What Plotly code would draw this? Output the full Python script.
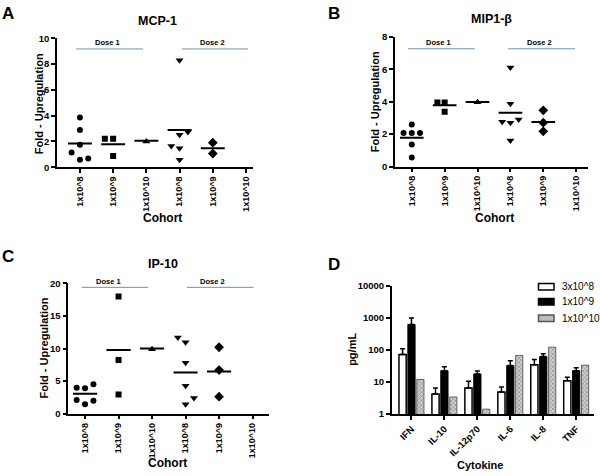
import plotly.graph_objects as go

# ---------------- data ----------------
cohorts = ["1x10^8", "1x10^9", "1x10^10", "1x10^8", "1x10^9", "1x10^10"]

# Panel A: MCP-1 (fold upregulation per cohort)
mcp1_vals = [[3.86, 2.88, 1.74, 1.14, 0.58, 0.68],
             [2.2, 2.2, 0.86],
             [2.0],
             [8.3, 2.52, 1.64, 1.46, 2.73, 0.58],
             [1.9, 1.06],
             []]
mcp1_jit = [[0, 0, 0, -0.25, 0, 0.25],
            [-0.25, 0, 0],
            [0],
            [0, 0, -0.25, 0, 0.25, 0],
            [0, 0],
            []]
mcp1_mean = [1.84, 1.77, 2.05, 2.88, 1.46, None]

# Panel B: MIP1-beta
mip_vals = [[2.07, 2.59, 2.07, 2.07, 1.36, 0.56],
            [3.96, 3.96, 3.38],
            [3.97],
            [6.11, 3.88, 2.77, 2.71, 2.9, 1.61],
            [3.47, 2.71, 2.17],
            []]
mip_jit = [[-0.25, 0, 0, 0.25, 0, 0],
           [-0.22, 0, 0],
           [0],
           [0, 0, -0.25, 0, 0.25, 0],
           [0, 0, 0],
           []]
mip_mean = [1.77, 3.78, 3.99, 3.32, 2.75, None]

# Panel C: IP-10
ip_vals = [[3.99, 3.9, 4.5, 2.1, 2.0, 1.44],
           [18.0, 8.25, 2.95],
           [9.9],
           [11.7, 10.95, 7.8, 4.3, 2.4, 1.44],
           [10.2, 6.69, 2.6],
           []]
ip_jit = [[-0.25, 0, 0.25, -0.25, 0.25, 0],
          [0, 0, 0],
          [0],
          [-0.23, 0, 0, 0, 0.25, 0],
          [0, 0, 0],
          []]
ip_mean = [3.04, 9.79, 9.99, 6.34, 6.49, None]

# Panel D: cytokines (pg/mL)
cytokines = ["IFN", "IL-10", "IL-12p70", "IL-6", "IL-8", "TNF"]
d_3e8 = [73, 4.2, 6.5, 4.9, 34.6, 11]
d_3e8_err = [36, 2.3, 4.0, 2.1, 16.4, 3.0]
d_1e9 = [630, 22.7, 17.9, 33, 63, 22.7]
d_1e9_err = [370, 7.3, 4.1, 13, 13, 5.3]
d_1e10 = [12, 3.4, 1.42, 68, 123, 33.7]
legend_names = ["3x10^8", "1x10^9", "1x10^10"]

symbols = ["circle", "square", "triangle-up", "triangle-down", "diamond", "circle"]
sizes = [6, 6, 7, 7, 7.5, 6]

W, H = 600, 476
FONT = "Liberation Sans, Arial, sans-serif"
DOSE_BLUE = "#7390b8"
GREY_FILL = "#bdbdbd"


def px(x):
    return x / W


def py(y):
    return 1 - y / H


fig = go.Figure()

panels = [
    dict(vals=mcp1_vals, jit=mcp1_jit, mean=mcp1_mean, xa="x", ya="y",
         xd=(57, 253), yd=(165, 33), xr=[-0.69, 5.21], yr=[0, 10],
         yt=[0, 2, 4, 6, 8, 10], dose_y=9.17, d1=(-0.12, 1.9), d2=(3.07, 5.06),
         t1=0.84, t2=3.98),
    dict(vals=mip_vals, jit=mip_jit, mean=mip_mean, xa="x2", ya="y2",
         xd=(395, 588), yd=(164.3, 31.7), xr=[-0.51, 5.36], yr=[0, 8],
         yt=[0, 2, 4, 6, 8], dose_y=7.27, d1=(-0.11, 1.92), d2=(2.93, 4.97),
         t1=0.8, t2=3.87),
    dict(vals=ip_vals, jit=ip_jit, mean=ip_mean, xa="x3", ya="y3",
         xd=(68.3, 269), yd=(417.3, 284), xr=[-0.5, 5.49], yr=[0, 20],
         yt=[0, 5, 10, 15, 20], dose_y=19.4, d1=(-0.1, 1.89), d2=(3.04, 5.03),
         t1=0.7, t2=3.81),
]

layout_axes = {}
shapes = []
annotations = []

axis_common = dict(showline=True, linecolor="black", linewidth=1.5, ticks="outside",
                   ticklen=4, tickwidth=1.5, tickcolor="black", showgrid=False,
                   zeroline=False)

for i, p in enumerate(panels):
    for c, (vals, jit) in enumerate(zip(p["vals"], p["jit"])):
        if not vals:
            continue
        fig.add_trace(go.Scatter(
            x=[c + j for j in jit], y=vals, mode="markers",
            marker=dict(symbol=symbols[c], size=sizes[c], color="black",
                        line=dict(width=0)),
            xaxis=p["xa"], yaxis=p["ya"], showlegend=False, hoverinfo="skip"))
    mx, my = [], []
    for c, m in enumerate(p["mean"]):
        if m is None:
            continue
        mx += [c - 0.36, c + 0.36, None]
        my += [m, m, None]
    fig.add_trace(go.Scatter(x=mx, y=my, mode="lines",
                             line=dict(color="black", width=2),
                             xaxis=p["xa"], yaxis=p["ya"], showlegend=False,
                             hoverinfo="skip"))
    suffix = "" if i == 0 else str(i + 1)
    layout_axes["xaxis" + suffix] = dict(
        axis_common, domain=[px(p["xd"][0]), px(p["xd"][1])], range=p["xr"],
        anchor=p["ya"], tickmode="array", tickvals=list(range(6)), ticktext=cohorts,
        tickangle=-90, tickfont=dict(family=FONT, size=9, color="black", weight="bold"))
    layout_axes["yaxis" + suffix] = dict(
        axis_common, domain=[py(p["yd"][0]), py(p["yd"][1])], range=p["yr"],
        anchor=p["xa"], tickmode="array", tickvals=p["yt"],
        tickfont=dict(family=FONT, size=9.5, color="black", weight="bold"))
    for (x0, x1) in (p["d1"], p["d2"]):
        shapes.append(dict(type="line", xref=p["xa"], yref=p["ya"], x0=x0, x1=x1,
                           y0=p["dose_y"], y1=p["dose_y"],
                           line=dict(color=DOSE_BLUE, width=1)))
    for tx, lab in ((p["t1"], "Dose 1"), (p["t2"], "Dose 2")):
        annotations.append(dict(xref=p["xa"], yref=p["ya"], x=tx, y=p["dose_y"],
                                yshift=6, text=lab, showarrow=False,
                                font=dict(family=FONT, size=7.5, color="black",
                                          weight="bold")))

# Panel D bars
fig.add_trace(go.Bar(x=cytokines, y=d_3e8, name=legend_names[0], xaxis="x4", yaxis="y4",
                     marker=dict(color="white", line=dict(color="black", width=1.5)),
                     error_y=dict(type="data", symmetric=False, array=d_3e8_err,
                                  arrayminus=[0] * 6, color="black", thickness=1.5,
                                  width=2.5), showlegend=False))
fig.add_trace(go.Bar(x=cytokines, y=d_1e9, name=legend_names[1], xaxis="x4", yaxis="y4",
                     marker=dict(color="black", line=dict(color="black", width=1)),
                     error_y=dict(type="data", symmetric=False, array=d_1e9_err,
                                  arrayminus=[0] * 6, color="black", thickness=1.5,
                                  width=2.5), showlegend=False))
fig.add_trace(go.Bar(x=cytokines, y=d_1e10, name=legend_names[2], xaxis="x4", yaxis="y4",
                     marker=dict(color=GREY_FILL, line=dict(color="#444", width=0.8),
                                 pattern=dict(shape="x", fgcolor="#555", bgcolor="#d0d0d0",
                                              size=3, solidity=0.45)),
                     showlegend=False))

layout_axes["xaxis4"] = dict(
    axis_common, domain=[px(391.7), px(594)], range=[-0.6, 5.54], anchor="y4",
    type="category", tickangle=-45,
    tickfont=dict(family=FONT, size=9.5, color="black", weight="bold"))
layout_axes["yaxis4"] = dict(
    axis_common, domain=[py(417.7), py(286.7)], type="log", range=[0, 4], anchor="x4",
    tickmode="array", tickvals=[1, 10, 100, 1000, 10000],
    ticktext=["1", "10", "100", "1000", "10000"],
    tickfont=dict(family=FONT, size=9.5, color="black", weight="bold"))

# legend swatches (drawn in paper space) + labels
legend_rows = [287.3, 302.7, 319.7]
legend_fill = ["white", "black", GREY_FILL]
legend_line = ["black", "black", "#555"]
for yc, fc, lc, name in zip(legend_rows, legend_fill, legend_line, legend_names):
    shapes.append(dict(type="rect", xref="paper", yref="paper",
                       x0=px(538.5), x1=px(554), y0=py(yc + 3.3), y1=py(yc - 3.3),
                       fillcolor=fc, line=dict(color=lc, width=1.5)))
    annotations.append(dict(xref="paper", yref="paper", x=px(560), y=py(yc),
                            xanchor="left", yanchor="middle", text=name,
                            showarrow=False,
                            font=dict(family=FONT, size=10, color="black")))


def ann(text, x, y, size, angle=0, bold=True):
    annotations.append(dict(xref="paper", yref="paper", x=px(x), y=py(y), text=text,
                            showarrow=False, textangle=angle, xanchor="center",
                            yanchor="middle",
                            font=dict(family=FONT, size=size, color="black",
                                      weight="bold" if bold else "normal")))


# panel letters
ann("A", 8, 8, 17)
ann("B", 334, 8, 17)
ann("C", 8, 256, 17)
ann("D", 334, 265, 17)
# titles
ann("MCP-1", 157, 15, 12.5)
ann("MIP1-β", 492, 13, 12.5)
ann("IP-10", 163, 264, 12.5)
# axis titles
ann("Fold - Upregulation", 38.5, 100, 11, angle=-90)
ann("Fold - Upregulation", 375, 98.5, 11, angle=-90)
ann("Fold - Upregulation", 43.5, 350, 11, angle=-90)
ann("pg/mL", 352, 352, 11, angle=-90)
ann("Cohort", 162, 217, 12)
ann("Cohort", 494, 217, 12)
ann("Cohort", 167, 468, 12)
ann("Cytokine", 480, 470, 11)

fig.update_layout(
    width=W, height=H, margin=dict(l=0, r=0, t=0, b=0),
    paper_bgcolor="white", plot_bgcolor="white",
    barmode="group", bargap=0.19, bargroupgap=0.19,
    showlegend=False,
    shapes=shapes, annotations=annotations,
    **layout_axes)

fig.write_html("out.html", config={"displayModeBar": False},
               post_script="document.body.style.margin='0';document.body.style.padding='0';")
